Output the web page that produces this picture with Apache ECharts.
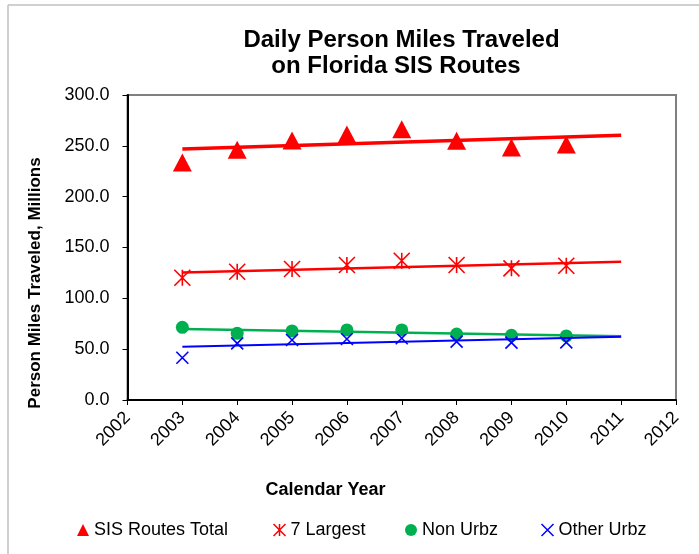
<!DOCTYPE html>
<html>
<head>
<meta charset="utf-8">
<script src="https://cdn.jsdelivr.net/npm/echarts@6/dist/echarts.min.js"></script>
<style>
  html, body { margin: 0; padding: 0; background: #ffffff; }
  #chart { width: 699px; height: 554px; }
</style>
</head>
<body>
<div id="chart"></div>
<script>
// ---- data ----
const years = [2003, 2004, 2005, 2006, 2007, 2008, 2009, 2010];
const sisTotal = [233.6, 246.2, 255.2, 261.1, 266.4, 254.9, 248.4, 251.3];
const largest7 = [120.3, 126.2, 128.9, 132.8, 137.0, 132.8, 129.5, 132.1];
const nonUrbz = [71.5, 65.6, 67.9, 68.9, 68.9, 64.9, 63.6, 63.0];
const otherUrbz = [41.6, 55.7, 59.0, 60.0, 60.7, 57.4, 56.4, 56.7];

const trendYears = [2003, 2011];
const sisTrend = [246.9, 260.3];
const largestTrend = [125.4, 136.1];
const nonTrend = [69.8, 62.6];
const otherTrend = [52.3, 62.3];

const seriesNames = ['SIS Routes Total', '7 Largest', 'Non Urbz', 'Other Urbz'];
const titleLines = ['Daily Person Miles Traveled', 'on Florida SIS Routes'];
const yAxisTitle = 'Person Miles Traveled, Millions';
const xAxisTitle = 'Calendar Year';

// ---- helpers ----
const pairs = (xs, ys) => xs.map((x, i) => [x, ys[i]]);
const FONT = '"Liberation Sans", Arial, sans-serif';
const RED = '#ff0000', GREEN = '#00b050', BLUE = '#0000ff';
const STAR = 'path://M0,0L10,10M10,0L0,10M5,0L5,10';
const CROSS = 'path://M0,0L10,10M10,0L0,10';

const chart = echarts.init(document.getElementById('chart'), null, { renderer: 'canvas' });

function legendAt(name, left, itemStyle) {
  return {
    data: [{ name: name, itemStyle: itemStyle }],
    left: left, top: 521, padding: 0,
    itemWidth: 12, itemHeight: 12,
    textStyle: { fontFamily: FONT, fontSize: 18, color: '#000' },
    selectedMode: false
  };
}

chart.setOption({
  animation: false,
  backgroundColor: '#ffffff',
  grid: {
    left: 127.5, top: 95, right: 23, bottom: 154,
    show: true, borderColor: '#808080', borderWidth: 2
  },
  legend: [
    legendAt(seriesNames[0], 77, { color: RED }),
    legendAt(seriesNames[1], 271, { color: 'none', borderColor: RED, borderWidth: 1.5 }),
    legendAt(seriesNames[2], 405, { color: GREEN }),
    legendAt(seriesNames[3], 539, { color: 'none', borderColor: BLUE, borderWidth: 1.5 })
  ],
  xAxis: {
    type: 'value', min: 2002, max: 2012, interval: 1,
    axisLine: { show: true, lineStyle: { color: '#000', width: 2 } },
    axisTick: { show: true, inside: false, length: 5, lineStyle: { color: '#000', width: 1 } },
    splitLine: { show: false },
    axisLabel: {
      rotate: 45, margin: 15, fontFamily: FONT, fontSize: 18, color: '#000',
      formatter: v => String(v)
    }
  },
  yAxis: {
    type: 'value', min: 0, max: 300, interval: 50,
    axisLine: { show: true, lineStyle: { color: '#000', width: 2 } },
    axisTick: { show: true, inside: false, length: 5, lineStyle: { color: '#000', width: 1 } },
    splitLine: { show: false },
    axisLabel: {
      margin: 18, fontFamily: FONT, fontSize: 18, color: '#000',
      formatter: v => v.toFixed(1)
    }
  },
  graphic: [
    { type: 'line', silent: true, shape: { x1: 8, y1: 5, x2: 699, y2: 5 }, style: { stroke: '#c0c0c0', lineWidth: 1.5 } },
    { type: 'line', silent: true, shape: { x1: 8, y1: 5, x2: 8, y2: 554 }, style: { stroke: '#c0c0c0', lineWidth: 1.5 } },
    { type: 'text', x: 401.5, y: 40, style: { text: titleLines[0], fontFamily: FONT, fontSize: 24, fontWeight: 'bold', fill: '#000', textAlign: 'center', textVerticalAlign: 'middle' } },
    { type: 'text', x: 396, y: 66, style: { text: titleLines[1], fontFamily: FONT, fontSize: 24, fontWeight: 'bold', fill: '#000', textAlign: 'center', textVerticalAlign: 'middle' } },
    { type: 'text', x: 35, y: 283, rotation: Math.PI / 2, style: { text: yAxisTitle, fontFamily: FONT, fontSize: 17, fontWeight: 'bold', fill: '#000', textAlign: 'center', textVerticalAlign: 'middle' } },
    { type: 'text', x: 325.5, y: 490, style: { text: xAxisTitle, fontFamily: FONT, fontSize: 18, fontWeight: 'bold', fill: '#000', textAlign: 'center', textVerticalAlign: 'middle' } }
  ],
  series: [
    {
      name: seriesNames[0], type: 'scatter', data: pairs(years, sisTotal),
      symbol: 'triangle', symbolSize: [19, 18],
      itemStyle: { color: RED, opacity: 1 }, z: 3
    },
    {
      name: seriesNames[1], type: 'scatter', data: pairs(years, largest7),
      symbol: STAR, symbolSize: 16,
      itemStyle: { color: 'none', borderColor: RED, borderWidth: 1.6, opacity: 1 }, z: 3
    },
    {
      name: seriesNames[2], type: 'scatter', data: pairs(years, nonUrbz),
      symbol: 'circle', symbolSize: 13,
      itemStyle: { color: GREEN, opacity: 1 }, z: 3
    },
    {
      name: seriesNames[3], type: 'scatter', data: pairs(years, otherUrbz),
      symbol: CROSS, symbolSize: 12,
      itemStyle: { color: 'none', borderColor: BLUE, borderWidth: 1.6, opacity: 1 }, z: 3
    },
    { name: 'sisTrend', type: 'line', data: pairs(trendYears, sisTrend), showSymbol: false, symbol: 'none', lineStyle: { color: RED, width: 3.5 }, z: 4 },
    { name: 'largestTrend', type: 'line', data: pairs(trendYears, largestTrend), showSymbol: false, symbol: 'none', lineStyle: { color: RED, width: 2.5 }, z: 4 },
    { name: 'nonTrend', type: 'line', data: pairs(trendYears, nonTrend), showSymbol: false, symbol: 'none', lineStyle: { color: GREEN, width: 2.5 }, z: 4 },
    { name: 'otherTrend', type: 'line', data: pairs(trendYears, otherTrend), showSymbol: false, symbol: 'none', lineStyle: { color: BLUE, width: 2 }, z: 4 }
  ]
});
</script>
</body>
</html>
